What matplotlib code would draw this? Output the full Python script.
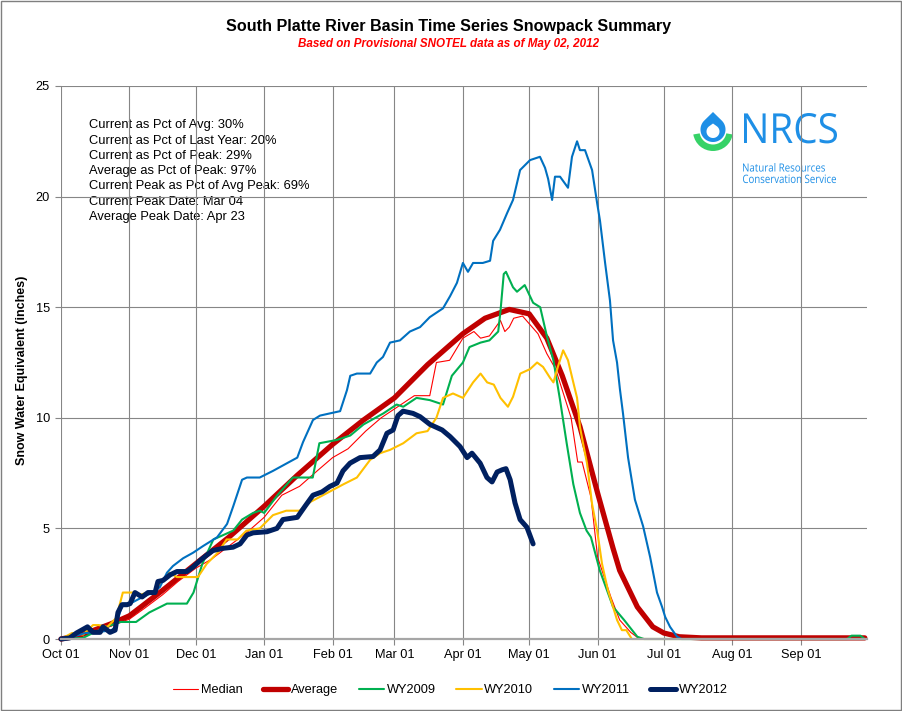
import numpy as np
import matplotlib
matplotlib.use('Agg')
import matplotlib.pyplot as plt
from matplotlib.font_manager import FontProperties
from matplotlib.textpath import TextPath
from matplotlib.patches import PathPatch, Polygon, Wedge, Rectangle
from matplotlib.transforms import Affine2D

plt.rcParams['font.family'] = ['Liberation Sans', 'DejaVu Sans']

# water year day index (0 = Oct 01) for each month start
month_days = [0, 31, 61, 92, 123, 151, 182, 212, 243, 273, 304, 335]
month_labels = ['Oct 01', 'Nov 01', 'Dec 01', 'Jan 01', 'Feb 01', 'Mar 01',
                'Apr 01', 'May 01', 'Jun 01', 'Jul 01', 'Aug 01', 'Sep 01']

# (day of water year, SWE inches)
median = [(0, 0), (8, 0.1), (15, 0.3), (23, 0.6), (31, 0.9), (38, 1.4), (46, 2.0),
          (53, 2.6), (61, 3.2), (68, 3.6), (76, 4.2), (84, 4.8), (92, 5.5), (100, 6.5),
          (108, 6.9), (116, 7.6), (123, 8.2), (130, 8.6), (138, 9.4), (145, 10.0),
          (151, 10.4), (160, 11.0), (167, 11.0), (170, 12.5), (176, 12.6), (182, 13.6),
          (187, 13.9), (190, 13.6), (194, 13.7), (199, 14.4), (201, 13.9), (203, 14.1),
          (205, 14.5), (209, 14.6), (216, 13.8), (220, 12.9), (224, 12.2), (231, 10.0),
          (234, 8.0), (236, 8.0), (240, 6.4), (243, 3.7), (249, 1.9), (253, 0.86),
          (258, 0.3), (262, 0), (364, 0)]

average = [(0, 0), (8, 0.15), (15, 0.4), (23, 0.7), (31, 1.05), (46, 2.2), (61, 3.4),
           (76, 4.6), (92, 6.0), (107, 7.4), (123, 8.8), (137, 9.9), (151, 10.9),
           (166, 12.4), (182, 13.8), (192, 14.5), (203, 14.9), (212, 14.7), (220, 13.6),
           (227, 11.9), (235, 9.6), (243, 6.6), (250, 4.1), (253, 3.1), (261, 1.45),
           (268, 0.55), (273, 0.27), (280, 0.1), (290, 0.05), (364, 0.05)]

wy2009 = [(0, 0), (10, 0.05), (15, 0.3), (22, 0.6), (27, 0.77), (34, 0.77), (40, 1.2),
          (48, 1.6), (57, 1.6), (60, 2.1), (64, 3.4), (69, 4.5), (78, 4.9), (82, 5.4),
          (87, 5.7), (90, 5.8), (92, 5.7), (98, 6.5), (105, 7.3), (114, 7.3), (117, 8.85),
          (125, 9.0), (131, 9.2), (137, 9.7), (146, 10.2), (152, 10.6), (155, 10.5),
          (161, 10.9), (167, 10.8), (173, 10.6), (177, 11.9), (182, 12.5), (185, 13.2),
          (190, 13.4), (194, 13.5), (198, 13.9), (199, 14.8), (200.5, 16.5), (201.5, 16.6),
          (204.7, 15.9), (206.5, 15.7), (210, 16.0), (213.8, 15.2), (217, 15.0),
          (220, 13.7), (223, 12.6), (226, 10.8), (229, 8.85), (232, 7.0), (235, 5.7),
          (238, 4.9), (240, 4.6), (244, 3.1), (250, 1.45), (255, 0.86), (261, 0.1),
          (264, 0), (356, 0), (358, 0.15), (362, 0.15), (364, 0)]

wy2010 = [(0, 0), (5, 0.27), (10, 0.2), (14.5, 0.63), (17, 0.63), (21, 0.55), (25, 0.95),
          (28, 2.1), (30, 2.1), (33, 2.1), (36, 2.0), (39, 2.1), (42, 2.1), (45, 2.5),
          (49, 3.0), (52.5, 2.8), (57, 2.8), (62, 2.8), (66, 3.4), (71, 3.9), (75, 4.5),
          (80, 4.5), (84, 4.9), (90, 5.0), (96, 5.6), (102, 5.8), (108, 5.8), (113, 6.2),
          (120.5, 6.6), (128, 7.0), (134, 7.3), (140, 8.1), (144.5, 8.4), (149, 8.55),
          (155, 8.85), (161, 9.3), (166, 9.4), (170, 10.0), (173, 10.9), (177.5, 11.1),
          (182, 10.9), (186.6, 11.6), (190, 12.0), (193, 11.6), (196, 11.5), (199, 10.9),
          (202.4, 10.5), (204.7, 10.95), (208, 12.0), (212.4, 12.2), (215.6, 12.5),
          (218.3, 12.3), (221.5, 11.8), (223, 11.6), (225, 12.3), (227.4, 13.05),
          (229.6, 12.6), (232, 11.6), (233.7, 10.9), (235, 9.6), (236.4, 8.85),
          (238.2, 7.95), (240.5, 6.1), (242.8, 4.9), (245, 3.4), (247.7, 2.2),
          (251.8, 0.86), (254, 0.4), (256, 0.4), (258.5, 0), (364, 0)]

wy2011 = [(0, 0), (5, 0.1), (11, 0.27), (16, 0.3), (23, 0.4), (24.5, 0.55), (26.7, 1.2),
          (28, 1.6), (31.3, 1.6), (37, 1.9), (41.7, 2.1), (44.8, 2.35), (48, 3.0),
          (50.7, 3.3), (55.3, 3.65), (59.8, 3.9), (64.3, 4.2), (70.7, 4.6), (75.2, 5.2),
          (78, 6.0), (82, 7.2), (84.2, 7.3), (90, 7.3), (96, 7.6), (102.4, 7.95),
          (107, 8.2), (109.6, 8.9), (114.1, 9.9), (117.3, 10.1), (121.8, 10.2),
          (126.4, 10.3), (129.5, 11.25), (131, 11.9), (134, 12.0), (140, 12.0),
          (143, 12.5), (145.8, 12.75), (149, 13.4), (153.5, 13.5), (158, 13.9),
          (162.6, 14.1), (167, 14.55), (173, 14.95), (176.2, 15.5), (179.3, 16.1),
          (182, 17.0), (184.3, 16.6), (186.6, 17.0), (191, 17.0), (194.3, 17.1),
          (195.7, 18.0), (198.8, 18.5), (202, 19.25), (204.7, 19.85), (207.9, 21.2),
          (212.4, 21.65), (216.9, 21.8), (219.2, 21.3), (220.6, 20.8), (222.4, 19.85),
          (223.7, 20.9), (226, 20.9), (229.6, 20.4), (231.4, 21.8), (233.7, 22.5),
          (235, 22.1), (237.3, 22.1), (240.5, 21.2), (242.8, 19.7), (244.1, 18.9),
          (246.4, 17.0), (248.6, 15.3), (250, 13.5), (251.8, 12.5), (253.1, 11.3),
          (254.5, 10.2), (256.8, 8.2), (259.9, 6.3), (263.6, 5.1), (266.8, 3.7),
          (269.9, 2.1), (272.2, 1.45), (273.6, 1.0), (275.8, 0.55), (279, 0.1),
          (281, 0), (364, 0)]

wy2012 = [(0, 0), (4, 0.05), (7, 0.27), (12, 0.55), (14.5, 0.3), (17.7, 0.3), (19, 0.55),
          (22.2, 0.3), (24.5, 0.4), (25.8, 1.2), (27.6, 1.55), (29.9, 1.55), (31.3, 1.6),
          (33.5, 2.1), (36.7, 1.9), (39.4, 2.1), (42.6, 2.1), (43.9, 2.6), (46.2, 2.65),
          (49.4, 2.9), (52.5, 3.05), (57, 3.05), (59.8, 3.25), (63, 3.55), (66.1, 3.8),
          (68.8, 4.0), (73.4, 4.1), (77.9, 4.15), (81.1, 4.3), (84.2, 4.7), (87, 4.8),
          (93.3, 4.85), (97.8, 5.0), (100.5, 5.4), (107, 5.5), (110.5, 6.0), (114.1, 6.5),
          (118.2, 6.65), (121.8, 6.9), (125, 7.05), (127.7, 7.6), (130.9, 7.95),
          (135.4, 8.2), (141.3, 8.25), (144.5, 8.55), (147.6, 9.3), (150.4, 9.45),
          (152.6, 10.1), (154.9, 10.3), (159.4, 10.2), (162.6, 10.05), (167.1, 9.7),
          (172.6, 9.45), (176.2, 9.15), (180.7, 8.7), (183.9, 8.2), (186.1, 8.4),
          (189.8, 7.95), (192.9, 7.3), (195.2, 7.1), (197.5, 7.55), (199.8, 7.65),
          (201.5, 7.7), (203.4, 7.2), (205.6, 6.15), (207.9, 5.4), (211, 5.05),
          (213.8, 4.3)]

stats_lines = ['Current as Pct of Avg: 30%',
               'Current as Pct of Last Year: 20%',
               'Current as Pct of Peak: 29%',
               'Average as Pct of Peak: 97%',
               'Current Peak as Pct of Avg Peak: 69%',
               'Current Peak Date: Mar 04',
               'Average Peak Date: Apr 23']

series = [('Median', median, '#ff0000', 0.8),
          ('Average', average, '#c00000', 3.8),
          ('WY2009', wy2009, '#00b050', 1.5),
          ('WY2010', wy2010, '#ffc000', 1.5),
          ('WY2011', wy2011, '#0070c0', 1.5),
          ('WY2012', wy2012, '#002060', 3.6)]

W, H = 902, 711
fig = plt.figure(figsize=(W / 100, H / 100), dpi=100)

# overlay in pixel coordinates for titles, notes, logo and frame
ov = fig.add_axes([0, 0, 1, 1], zorder=0)
ov.set_xlim(0, W)
ov.set_ylim(H, 0)
ov.axis('off')

ax = fig.add_axes([61 / W, 1 - 639 / H, (867 - 61) / W, (639 - 86) / H], zorder=1)
ax.patch.set_alpha(0)

for name, pts, color, lw in series:
    d = np.array(pts, dtype=float)
    ax.plot(d[:, 0], d[:, 1], color=color, lw=lw, label=name, clip_on=False,
            solid_joinstyle='round', solid_capstyle='round')

ax.set_xlim(0, 365)
ax.set_ylim(0, 25)
ax.set_xticks(month_days)
ax.set_xticklabels(month_labels)
ax.set_yticks(range(0, 26, 5))
ax.grid(True, color='#868686', lw=0.8)
ax.set_axisbelow(True)
for s in ['top', 'right', 'left']:
    ax.spines[s].set_visible(False)
ax.spines['bottom'].set_color('#a6a6a6')
ax.spines['bottom'].set_linewidth(1.6)
ax.tick_params(axis='both', colors='#868686', labelcolor='black', labelsize=9.2,
               length=4, width=0.8)
ax.tick_params(axis='x', pad=3)
ax.tick_params(axis='y', pad=4)

# titles
ov.text(449, 26, 'South Platte River Basin Time Series Snowpack Summary',
        ha='center', va='center', fontsize=11.6, fontweight='bold')
ov.text(449, 44.5, 'Based on Provisional SNOTEL data as of May 02, 2012',
        ha='center', va='center', fontsize=8.4, fontweight='bold', fontstyle='italic',
        color='#ff0000')
ov.text(22, 370, 'Snow Water Equivalent (inches)', rotation=90, ha='center',
        va='center', fontsize=9, fontweight='bold')

for i, line in enumerate(stats_lines):
    ov.text(89, 128.3 + 15.28 * i, line, ha='left', va='baseline', fontsize=9.3)

# NRCS logo
blue = '#1e8fe6'
green = '#36d267'


def drop(cx, cy, r, tip_y, n=80):
    beta = np.degrees(np.arccos(r / (cy - tip_y)))
    th = np.radians(np.linspace(-90 + beta, 270 - beta, n))
    xy = np.column_stack([cx + r * np.cos(th), cy + r * np.sin(th)])
    return np.vstack([[cx, tip_y], xy])


ov.add_patch(Wedge((713, 131), 20, 10, 170, width=6.5, color=green, lw=0))
ov.add_patch(Polygon(drop(713, 129.5, 12.5, 112), closed=True, color=blue, lw=0))
ov.add_patch(Polygon(drop(713, 131.5, 6.5, 123.5), closed=True, color='white', lw=0))


def logo_text(s, x0, x1, top, base, fp):
    tp = TextPath((0, 0), s, size=1, prop=fp)
    bb = tp.get_extents()
    tr = (Affine2D().translate(-bb.x0, 0)
          .scale((x1 - x0) / bb.width, -(base - top) / bb.y1)
          .translate(x0, base))
    ov.add_patch(PathPatch(tr.transform_path(tp), fc=blue, ec='none', lw=0))


fp_logo = FontProperties(family='Open Sans')
logo_text('NRCS', 744, 837, 113, 143, fp_logo)
logo_text('Natural Resources', 743, 825, 163, 171.5, fp_logo)
logo_text('Conservation Service', 743, 836, 174.5, 183, fp_logo)

# frame round the whole picture
ov.add_patch(Rectangle((0.5, 0.5), W - 1.5, H - 1.5, fill=False, ec='#7f7f7f', lw=1))

handles, labels = ax.get_legend_handles_labels()
fig.legend(handles, labels, loc='center', bbox_to_anchor=(450 / W, 1 - 690 / H),
           ncol=6, frameon=False, fontsize=9.2, handlelength=2.0, handletextpad=0.2,
           columnspacing=1.6)

fig.savefig('out.png', dpi=100)
